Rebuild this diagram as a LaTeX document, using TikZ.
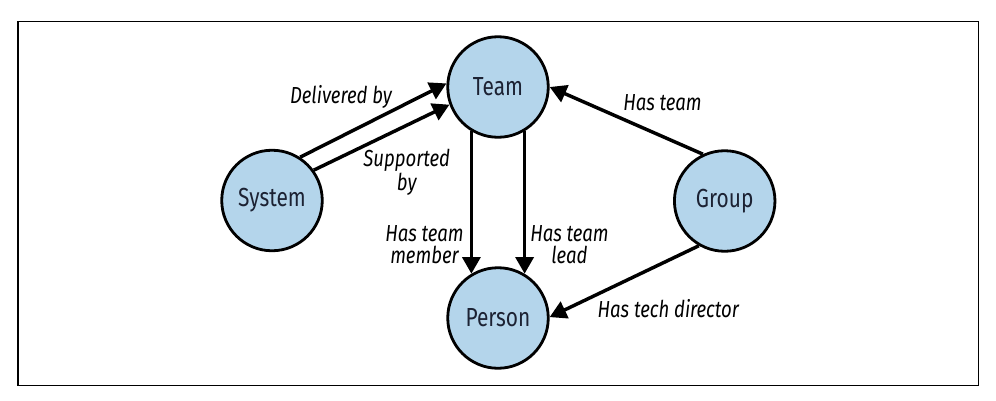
\documentclass[tikz,border=0pt]{standalone}
\usepackage{fontspec}
\setmainfont[FakeStretch=0.8]{Fira Sans}
\usetikzlibrary{arrows.meta}
\definecolor{nodefill}{RGB}{180,213,235}
\definecolor{nodetext}{RGB}{28,34,51}
\begin{document}
\begin{tikzpicture}[x=0.75pt,y=-0.75pt,
  entity/.style={circle, draw=black, line width=2.1pt, fill=nodefill, minimum size=75.4pt,
    inner sep=0pt, text=nodetext, font=\fontsize{19.6}{22}\selectfont},
  rel/.style={line width=2.6pt, -{Triangle[length=12.5pt,width=13.5pt]}},
  lbl/.style={font=\itshape\fontsize{17.4}{16.3}\selectfont, align=center, inner sep=0pt, anchor=base}]
\useasboundingbox (0,0) rectangle (996,400);
\draw[line width=1pt] (18,21.3) rectangle (978.5,385.5);

\node[entity] (team)   at (498,87)    {Team};
\node[entity] (system) at (272,200.5) {System};
\node[entity] (group)  at (724.7,201) {Group};
\node[entity] (person) at (498,318)   {Person};

\draw[rel] (system.57.8) -- (team.176);
\draw[rel] (system.36.8) -- (team.200.6);
\draw[rel] (team.239) -- (person.121);
\draw[rel] (team.301) -- (person.59);
\draw[rel] (group.115) -- (team.0);
\draw[rel] (group.240.8) -- (person.1);

\node[lbl] (ldel) at (341,103.3) {Delivered by};
\node[lbl] (lsup) at (406.7,190) {Supported\\by};
\node[lbl] (lmem) at (424.5,263) {Has team\\member};
\node[lbl] (llead) at (569.5,263) {Has team\\lead};
\node[lbl] (lhas) at (662.5,110) {Has team};
\node[lbl] (ltech) at (668.3,317.7) {Has tech director};
\end{tikzpicture}
\end{document}
